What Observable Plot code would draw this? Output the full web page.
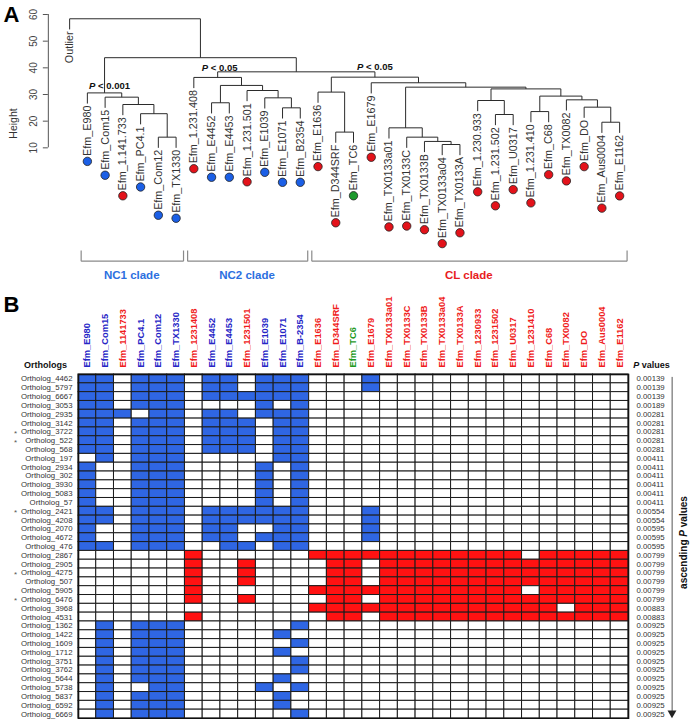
<!DOCTYPE html>
<html><head><meta charset="utf-8">
<script src="https://cdn.jsdelivr.net/npm/d3@7"></script>
<script src="https://cdn.jsdelivr.net/npm/@observablehq/plot@0.6"></script>
<style>
body{margin:0;background:#fff;}
#chart{width:691px;height:719px;overflow:hidden;background:#fff;}
#chart svg{display:block;}
</style></head><body><div id="chart"></div>
<script>
// ================= DATA =================
// Dendrogram leaves (left to right), after the "Outlier" leaf
const outlierLabel = "Outlier";
const treeLabels = ["Efm_E980","Efm_Com15","Efm_1.141.733","Efm_PC4.1","Efm_Com12","Efm_TX1330","Efm_1.231.408","Efm_E4452","Efm_E4453","Efm_1.231.501","Efm_E1039","Efm_E1071","Efm_B2354","Efm_E1636","Efm_D344SRF","Efm_TC6","Efm_E1679","Efm_TX0133a01","Efm_TX0133C","Efm_TX0133B","Efm_TX0133a04","Efm_TX0133A","Efm_1.230.933","Efm_1.231.502","Efm_U0317","Efm_1.231.410","Efm_C68","Efm_TX0082","Efm_DO","Efm_Aus0004","Efm_E1162"];
// strain group per leaf / column: B = blue, R = red, G = green
const strainGroups = "BBRBBBRBBRBBB|RRGR|RRRRRRRRRRRRRR".replace(/\|/g, "").split("");
// hclust-style merges: negative = leaf (-1 Outlier, -2 first strain ...), positive = earlier merge; [a, b, height]
const merges = [
  [-22, -23, 11.25], [-21, 1, 12.4], [-20, 2, 14.0], [-6, -7, 14.0], [-16, -17, 15.9],
  [-19, 3, 17.5], [-31, -32, 19.6], [-25, -26, 22.5], [-5, 4, 22.8], [-27, -28, 23.6],
  [-13, -14, 25.0], [-30, 7, 25.25], [-4, 9, 26.25], [-9, -10, 26.9], [-24, 8, 27.75],
  [-29, 12, 28.0], [-12, 11, 28.75], [-3, 13, 29.0], [10, 16, 29.4], [-2, 18, 30.6],
  [-15, 5, 30.9], [-11, 17, 31.5], [15, 19, 32.1], [6, 23, 32.75], [14, 22, 33.4],
  [-18, 24, 34.4], [-8, 25, 36.4], [21, 26, 36.5], [27, 28, 38.5], [20, 29, 43.8],
  [-1, 30, 58.4]
];
const heightTicks = [10, 20, 30, 40, 50, 60];
const heightLabel = "Height";
const pAnnotations = [{node: 20, text: "< 0.001"}, {node: 27, text: "< 0.05"}, {node: 28, text: "< 0.05"}];
const clades = [
  {name: "NC1 clade", first: 0, last: 5, group: "B"},
  {name: "NC2 clade", first: 6, last: 12, group: "B"},
  {name: "CL clade", first: 13, last: 30, group: "R"}
];

// Heat map
const strains = ["Efm_E980","Efm_Com15","Efm_1141733","Efm_PC4.1","Efm_Com12","Efm_TX1330","Efm_1231408","Efm_E4452","Efm_E4453","Efm_1231501","Efm_E1039","Efm_E1071","Efm_B-2354","Efm_E1636","Efm_D344SRF","Efm_TC6","Efm_E1679","Efm_TX0133a01","Efm_TX0133C","Efm_TX0133B","Efm_TX0133a04","Efm_TX0133A","Efm_1230933","Efm_1231502","Efm_U0317","Efm_1231410","Efm_C68","Efm_TX0082","Efm_DO","Efm_Aus0004","Efm_E1162"];
const orthologs = ["Ortholog_4462","Ortholog_5797","Ortholog_6667","Ortholog_3053","Ortholog_2935","Ortholog_3142","Ortholog_3722","Ortholog_522","Ortholog_568","Ortholog_197","Ortholog_2934","Ortholog_302","Ortholog_3930","Ortholog_5083","Ortholog_57","Ortholog_2421","Ortholog_4208","Ortholog_2070","Ortholog_4672","Ortholog_476","Ortholog_2867","Ortholog_2905","Ortholog_4275","Ortholog_507","Ortholog_5905","Ortholog_6476","Ortholog_3968","Ortholog_4531","Ortholog_1362","Ortholog_1422","Ortholog_1609","Ortholog_1712","Ortholog_3751","Ortholog_3762","Ortholog_5644","Ortholog_5738","Ortholog_5837","Ortholog_6592","Ortholog_6669"];
const pValues = ["0.00139","0.00139","0.00139","0.00189","0.00281","0.00281","0.00281","0.00281","0.00281","0.00411","0.00411","0.00411","0.00411","0.00411","0.00411","0.00554","0.00554","0.00595","0.00595","0.00595","0.00799","0.00799","0.00799","0.00799","0.00799","0.00799","0.00883","0.00883","0.00925","0.00925","0.00925","0.00925","0.00925","0.00925","0.00925","0.00925","0.00925","0.00925","0.00925"];
const starred = ["Ortholog_3722","Ortholog_522","Ortholog_2421","Ortholog_4275","Ortholog_6476"];
// presence per ortholog row: 0 absent, 1 present (blue), 2 present (red); columns grouped NC1|NC2|CL
const presence = [
  "110111|0110111|000100000000000000",
  "110111|0110111|000100000000000000",
  "110111|0111111|000000000000000000",
  "110111|0000101|000000000000000000",
  "111011|0110111|000000000000000000",
  "110111|0111011|000000000000000000",
  "110111|0111011|000000000000000000",
  "110111|0111011|000000000000000000",
  "110111|0111011|000000000000000000",
  "010111|0000011|000000000000000000",
  "100111|0000101|000000000000000000",
  "100111|0000101|000000000000000000",
  "100111|0000101|000000000000000000",
  "100111|0000101|000000000000000000",
  "100111|0000101|000000000000000000",
  "110111|0111111|000100000000000000",
  "110111|0111111|000100000000000000",
  "100111|0110011|000100000000000000",
  "100111|0110111|000100000000000000",
  "110111|0011011|000000000000000000",
  "000000|2000000|222222222222022222",
  "000000|2002000|022022222222222222",
  "000000|2002000|022022222222222222",
  "000000|2002000|022022222222222222",
  "000000|2000000|222222222222022222",
  "000000|2002000|022022222222222222",
  "000000|0000000|222222222222220222",
  "000000|2000000|022022222222222222",
  "010111|0000001|000000000000000000",
  "010111|0000010|000000000000000000",
  "010111|0000001|000000000000000000",
  "010111|0000010|000000000000000000",
  "010111|0000001|000000000000000000",
  "010111|0000001|000000000000000000",
  "010111|0000010|000000000000000000",
  "010011|0000101|000000000000000000",
  "010111|0000010|000000000000000000",
  "010111|0000010|000000000000000000",
  "010111|0000001|000000000000000000"
];

// ================= STYLE / LAYOUT =================
const FONT = '"Liberation Sans", Arial, sans-serif';
const dotColor = {B: "#1b5fe6", R: "#e3121a", G: "#1c9a2c"};
const headerColor = {B: "#2626c6", R: "#f01c1c", G: "#1e9a1e"};
const cladeColor = {B: "#2c6fe0", R: "#e81c22"};
const cellColor = ["#ffffff", "#2f66e3", "#ff1212"];
const W = 691;
const heatLeft = 78, heatRight = 628;
const A_H = 290, A_top = 14, yMin = -43.5, yMax = 60, xPad = 1.7;
const B_H = 429, B_top = 84;
const hang = 4, labelGap = 2, leafFont = 10.8, dotR = 4.2;
const pFont = 9.5;
const pOffsets = [{dx: 5, dy: -6.5}, {dx: 2, dy: -9.3}, {dx: 0, dy: -10}];
const bracketY = -32.5, bracketTop = -28.5, cladeLabelY = -37.9;

const colW = (heatRight - heatLeft) / strains.length;
const pxU = (A_H - A_top) / (yMax - yMin);

const ctx = document.createElement("canvas").getContext("2d");
function tw(s, size, weight = "normal", style = "normal") {
  ctx.font = `${style} ${weight} ${size}px "Liberation Sans"`;
  return ctx.measureText(s).width;
}
function layoutPieces(pieces, size) {
  const sp = tw(" ", size, "bold");
  let off = 0; const items = [];
  pieces.forEach((p, i) => {
    if (i) off += sp;
    items.push({...p, off});
    off += tw(p.t, size, "bold", p.italic ? "italic" : "normal");
  });
  return {items, width: off};
}

// ================= DENDROGRAM GEOMETRY =================
const leafX = i => i - 0.5;
const node = [];
const X = c => c < 0 ? leafX(-c - 1) : node[c].x;
const segs = [];
const leafEnd = [];
merges.forEach(([a, b, h], k) => {
  node[k + 1] = {x: (X(a) + X(b)) / 2, h};
  segs.push({x1: X(a), x2: X(b), y1: h, y2: h});
  for (const c of [a, b]) {
    const top = c < 0 ? h - hang : node[c].h;
    segs.push({x1: X(c), x2: X(c), y1: h, y2: top});
    if (c < 0) leafEnd[-c - 1] = h - hang;
  }
});
const leaves = [outlierLabel, ...treeLabels].map((name, i) => ({name, x: leafX(i), y: leafEnd[i], g: i === 0 ? null : strainGroups[i - 1]}));
const leafDots = leaves.filter(d => d.g).map(d => ({...d, yd: d.y - (labelGap + tw(d.name, leafFont) + 1.2 + dotR) / pxU}));

const pItems = [];
pAnnotations.forEach((a, k) => {
  const n = node[a.node], o = pOffsets[k];
  const {items, width} = layoutPieces([{t: "P", italic: true}, {t: a.text, italic: false}], pFont);
  items.forEach(it => pItems.push({x: n.x + (o.dx - width / 2 + it.off) / colW, y: n.h - o.dy / pxU, t: it.t, italic: it.italic}));
});

const bracketSegs = clades.flatMap(c => {
  const x1 = c.first + 0.15, x2 = c.last + 1 - 0.08;
  return [{x1, x2, y1: bracketY, y2: bracketY}, {x1, x2: x1, y1: bracketY, y2: bracketTop}, {x1: x2, x2, y1: bracketY, y2: bracketTop}];
});

const xMin = -xPad;
const plotA = Plot.plot({
  width: W, height: A_H,
  marginTop: A_top, marginBottom: 0,
  marginLeft: heatLeft - xPad * colW, marginRight: W - heatRight,
  style: {fontFamily: FONT, background: "transparent", overflow: "visible"},
  x: {domain: [xMin, strains.length], axis: null},
  y: {domain: [yMin, yMax]},
  marks: [
    Plot.axisY({ticks: heightTicks, tickSize: 5, tickFormat: () => "", label: null, stroke: "#555"}),
    Plot.ruleX([xMin], {y1: heightTicks[0], y2: heightTicks[heightTicks.length - 1], stroke: "#555"}),
    Plot.text(heightTicks, {y: d => d, text: d => String(d), frameAnchor: "left", textAnchor: "middle", lineAnchor: "middle", dx: -15, rotate: -90, fontSize: 10, fill: "#444"}),
    Plot.text([heightLabel], {text: d => d, frameAnchor: "left", textAnchor: "middle", lineAnchor: "middle", dx: -35, dy: -29, rotate: -90, fontSize: 10.5, fill: "#333"}),
    Plot.link(segs, {x1: "x1", x2: "x2", y1: "y1", y2: "y2", stroke: "#2b2b2b", strokeWidth: 1}),
    Plot.text(leaves, {x: "x", y: "y", text: "name", rotate: -90, textAnchor: "end", lineAnchor: "middle", dy: labelGap, fontSize: leafFont, fill: "#333"}),
    Plot.dot(leafDots, {x: "x", y: "yd", r: dotR, fill: d => dotColor[d.g], stroke: "#222", strokeWidth: 0.8}),
    Plot.text(pItems.filter(d => d.italic), {x: "x", y: "y", text: "t", textAnchor: "start", fontWeight: "bold", fontStyle: "italic", fontSize: pFont, fill: "#111"}),
    Plot.text(pItems.filter(d => !d.italic), {x: "x", y: "y", text: "t", textAnchor: "start", fontWeight: "bold", fontSize: pFont, fill: "#111"}),
    Plot.link(bracketSegs, {x1: "x1", x2: "x2", y1: "y1", y2: "y2", stroke: "#8a8a8a", strokeWidth: 1.2}),
    Plot.text(clades, {x: c => (c.first + c.last + 1) / 2, y: () => cladeLabelY, text: "name", fill: c => cladeColor[c.group], fontWeight: "bold", fontSize: 11.5}),
    Plot.text(["A"], {text: d => d, frameAnchor: "top-left", textAnchor: "middle", lineAnchor: "middle", dx: -36.8, dy: 0, fontSize: 22, fontWeight: "bold", fill: "#000"})
  ]
});

// ================= HEAT MAP =================
const cells = [];
orthologs.forEach((o, r) => {
  const row = presence[r].replace(/\|/g, "");
  strains.forEach((s, c) => cells.push({o, s, v: +row[c]}));
});
const headers = strains.map((s, i) => ({s, g: strainGroups[i]}));
const pRows = orthologs.map((o, i) => ({o, p: pValues[i]}));
const pv = layoutPieces([{t: "P", italic: true}, {t: "values", italic: false}], 9);
const pvStart = 651 - pv.width / 2 - heatRight;
const asc = layoutPieces([{t: "ascending", italic: false}, {t: "P", italic: true}, {t: "values", italic: false}], 10);
const ascBase = -4 + asc.width / 2;

const plotB = Plot.plot({
  width: W, height: B_H,
  marginTop: B_top, marginBottom: 1, marginLeft: heatLeft, marginRight: W - heatRight,
  style: {fontFamily: FONT, background: "transparent", overflow: "visible"},
  x: {domain: strains, axis: null, padding: 0, round: false},
  y: {domain: orthologs, axis: null, padding: 0, round: false},
  marks: [
    Plot.cell(cells, {x: "s", y: "o", fill: d => cellColor[d.v], stroke: "#1c1c1c", strokeWidth: 1, inset: 0}),
    Plot.frame({stroke: "#111", strokeWidth: 1.6}),
    Plot.text(headers, {x: "s", text: "s", frameAnchor: "top", dy: -7, rotate: -90, textAnchor: "start", lineAnchor: "middle", fontWeight: "bold", fontSize: 9.3, fill: d => headerColor[d.g]}),
    Plot.text(orthologs, {y: d => d, text: d => d, frameAnchor: "left", dx: -6, textAnchor: "end", lineAnchor: "middle", fontSize: 7.8, fill: "#333"}),
    Plot.text(starred, {y: d => d, text: () => "*", frameAnchor: "left", textAnchor: "middle", lineAnchor: "middle", dx: -63, dy: 1.5, fontSize: 8, fill: "#555"}),
    Plot.text(pRows, {y: "o", text: "p", frameAnchor: "right", dx: 8, textAnchor: "start", lineAnchor: "middle", fontSize: 7.8, fill: "#333"}),
    Plot.text(["Orthologs"], {text: d => d, frameAnchor: "top-left", textAnchor: "middle", lineAnchor: "middle", dx: -33, dy: -9, fontWeight: "bold", fontSize: 9, fill: "#111"}),
    Plot.text(["P"], {text: d => d, frameAnchor: "top-right", dx: pvStart + pv.items[0].off, dy: -9, textAnchor: "start", lineAnchor: "middle", fontWeight: "bold", fontStyle: "italic", fontSize: 9, fill: "#111"}),
    Plot.text(["values"], {text: d => d, frameAnchor: "top-right", dx: pvStart + pv.items[1].off, dy: -9, textAnchor: "start", lineAnchor: "middle", fontWeight: "bold", fontSize: 9, fill: "#111"}),
    Plot.link([0], {x1: () => strains[strains.length - 1], x2: () => strains[strains.length - 1], y1: () => orthologs[0], y2: () => orthologs[orthologs.length - 1], dx: 52.5, dy: -2, stroke: "#555", strokeWidth: 1}),
    Plot.dot([orthologs[orthologs.length - 1]], {y: d => d, frameAnchor: "right", dx: 43.5, dy: -1, symbol: "triangle", rotate: 180, r: 3.3, fill: "#222", stroke: "none"}),
    Plot.text(["ascending"], {text: d => d, frameAnchor: "right", dx: 55, dy: ascBase - asc.items[0].off, rotate: -90, textAnchor: "start", lineAnchor: "middle", fontWeight: "bold", fontSize: 10, fill: "#111"}),
    Plot.text(["P"], {text: d => d, frameAnchor: "right", dx: 55, dy: ascBase - asc.items[1].off, rotate: -90, textAnchor: "start", lineAnchor: "middle", fontWeight: "bold", fontStyle: "italic", fontSize: 10, fill: "#111"}),
    Plot.text(["values"], {text: d => d, frameAnchor: "right", dx: 55, dy: ascBase - asc.items[2].off, rotate: -90, textAnchor: "start", lineAnchor: "middle", fontWeight: "bold", fontSize: 10, fill: "#111"}),
    Plot.text(["B"], {text: d => d, frameAnchor: "top-left", textAnchor: "middle", lineAnchor: "middle", dx: -67, dy: -70, fontSize: 22, fontWeight: "bold", fill: "#000"})
  ]
});

const root = document.getElementById("chart");
root.appendChild(plotA);
root.appendChild(plotB);
</script>
</body></html>
